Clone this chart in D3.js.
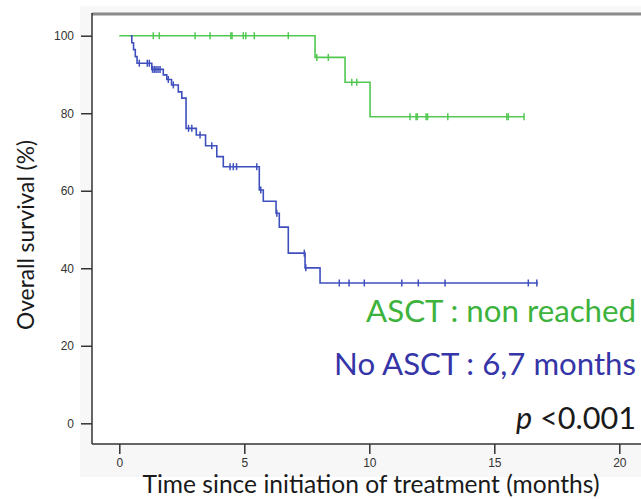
<!DOCTYPE html>
<html>
<head>
<meta charset="utf-8">
<script src="https://cdn.jsdelivr.net/npm/d3@7"></script>
<style>
  body { margin: 0; background: #fff; }
  svg { display: block; }
  .axis text { font-family: "Liberation Sans", Arial, sans-serif; font-size: 12px; fill: #333; }
  .axis line { stroke: #333; stroke-width: 1.5; }
</style>
</head>
<body>
<svg width="641" height="499"></svg>
<script>
// ASCT group (green): step times (months) and survival (%)
var ascTimes = [0, 7.83, 9.03, 10.03];
var ascSurv = [100, 94.4, 88.0, 79.1];
var ascEnd = 16.19;
var ascCensor = [1.36, 1.6, 3.03, 3.63, 4.46, 4.51, 4.96, 5.06, 5.4, 6.76, 7.9, 8.36, 9.3, 9.5,
                 11.63, 11.87, 11.92, 12.27, 12.33, 13.14, 15.5, 15.56, 16.19];

// No ASCT group (blue)
var noTimes = [0.45, 0.5, 0.57, 0.64, 0.71, 1.3, 1.76, 1.9, 2.09, 2.36, 2.5, 2.67,
               3.08, 3.45, 3.9, 4.16, 5.6, 5.76, 6.27, 6.4, 6.76, 7.43, 8.03];
var noSurv = [100, 98.2, 96.4, 94.6, 92.9, 91.3, 89.9, 88.7, 87.3, 85.5, 83.9, 76.1,
              74.4, 71.6, 68.8, 66.2, 60.2, 57.3, 54.2, 50.6, 43.9, 40.1, 36.2];
var noEnd = 16.75;
var noCensor = [0.8, 1.12, 1.2, 1.33, 1.4, 1.47, 1.55, 1.63, 1.96, 2.16, 2.77, 2.9, 3.23, 3.7,
                4.43, 4.56, 4.69, 5.5, 5.66, 6.3, 7.4, 7.46, 8.8, 9.19, 9.8, 11.3, 11.96, 13.03,
                16.36, 16.7];

var xTicks = [0, 5, 10, 15, 20];
var yTicks = [0, 20, 40, 60, 80, 100];

var svg = d3.select("svg");
var frame = {left: 92, top: 14, bottom: 444, right: 641};

var x = d3.scaleLinear().domain([0, 20]).range([119.3, 619.3]);
var y = d3.scaleLinear().domain([0, 100]).range([423.3, 35.7]);

// light grey chart background + white plot area
svg.append("rect").attr("x", 80).attr("y", 6).attr("width", 561).attr("height", 471).attr("fill", "#f7f7f7");
svg.append("rect").attr("x", frame.left).attr("y", frame.top)
	.attr("width", frame.right - frame.left).attr("height", frame.bottom - frame.top).attr("fill", "#fff");

// axes
svg.append("g")
	.attr("class", "axis")
	.attr("transform", "translate(" + frame.left + ",0)")
	.call(d3.axisLeft(y).tickValues(yTicks).tickSize(11).tickPadding(7))
	.select(".domain").remove();

svg.append("g")
	.attr("class", "axis")
	.attr("transform", "translate(0," + frame.bottom + ")")
	.call(d3.axisBottom(x).tickValues(xTicks).tickSize(10).tickPadding(4))
	.select(".domain").remove();

// frame lines
svg.append("line").attr("x1", frame.left).attr("x2", frame.right).attr("y1", frame.top).attr("y2", frame.top)
	.attr("stroke", "#8a8a8a").attr("stroke-width", 3);
svg.append("line").attr("x1", frame.left).attr("x2", frame.left).attr("y1", frame.top - 1).attr("y2", frame.bottom)
	.attr("stroke", "#333").attr("stroke-width", 1.5);
svg.append("line").attr("x1", frame.left).attr("x2", frame.right).attr("y1", frame.bottom).attr("y2", frame.bottom)
	.attr("stroke", "#333").attr("stroke-width", 1.5);

function drawCurve(times, surv, end, censor, color) {
	var pts = times.map(function(t, i) { return [t, surv[i]]; });
	pts.push([end, surv[surv.length - 1]]);

	var line = d3.line()
		.curve(d3.curveStepAfter)
		.x(function(d) { return x(d[0]); })
		.y(function(d) { return y(d[1]); });

	svg.append("path")
		.datum(pts)
		.attr("fill", "none")
		.attr("stroke", color)
		.attr("stroke-width", 1.6)
		.attr("d", line);

	svg.selectAll(null)
		.data(censor)
		.enter().append("line")
		.attr("x1", function(d) { return x(d); })
		.attr("x2", function(d) { return x(d); })
		.attr("y1", function(d) { return y(surv[d3.bisectRight(times, d) - 1]) - 3.5; })
		.attr("y2", function(d) { return y(surv[d3.bisectRight(times, d) - 1]) + 3.5; })
		.attr("stroke", color)
		.attr("stroke-width", 1.5);
}

drawCurve(ascTimes, ascSurv, ascEnd, ascCensor, "#52c852");
drawCurve(noTimes, noSurv, noEnd, noCensor, "#3f4fbd");

// fit a text to a target width by scaling its font size
function fit(sel, w) {
	var fs = parseFloat(sel.attr("font-size"));
	sel.attr("font-size", fs * w / sel.node().getComputedTextLength());
	return sel;
}

var font = "Lato, 'Open Sans', sans-serif";

fit(svg.append("text")
	.attr("x", 636).attr("y", 321.5)
	.attr("text-anchor", "end")
	.attr("font-family", font).attr("font-size", 26)
	.attr("fill", "#3db33d")
	.text("ASCT : non reached"), 270);

fit(svg.append("text")
	.attr("x", 636).attr("y", 375)
	.attr("text-anchor", "end")
	.attr("font-family", font).attr("font-size", 26)
	.attr("fill", "#3535a8")
	.text("No ASCT : 6,7 months"), 302);

var pText = svg.append("text")
	.attr("x", 636).attr("y", 428.5)
	.attr("text-anchor", "end")
	.attr("font-family", font).attr("font-size", 26)
	.attr("fill", "#1a1a1a");
pText.append("tspan").attr("font-style", "italic").text("p");
pText.append("tspan").text(" <0.001");
fit(pText, 120);

fit(svg.append("text")
	.attr("x", 371).attr("y", 493)
	.attr("text-anchor", "middle")
	.attr("font-family", font).attr("font-size", 22)
	.attr("fill", "#1a1a1a")
	.text("Time since initiation of treatment (months)"), 457);

fit(svg.append("text")
	.attr("transform", "translate(34,235) rotate(-90)")
	.attr("text-anchor", "middle")
	.attr("font-family", font).attr("font-size", 20)
	.attr("fill", "#1a1a1a")
	.text("Overall survival (%)"), 190);
</script>
</body>
</html>
